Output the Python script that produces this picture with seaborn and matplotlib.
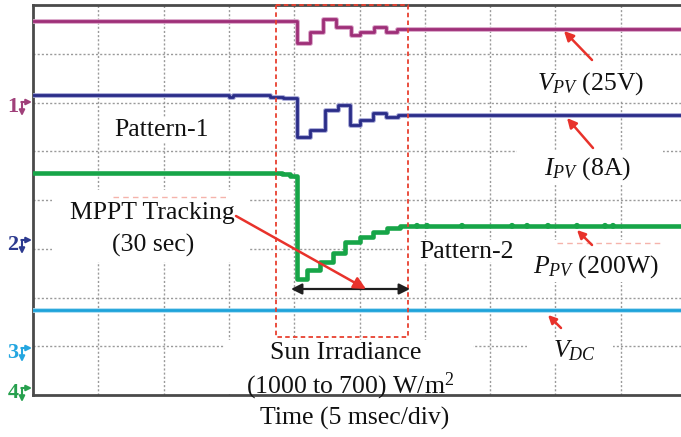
import numpy as np
import pandas as pd
import matplotlib
matplotlib.use("Agg")
import matplotlib.pyplot as plt
import seaborn as sns
from matplotlib.patches import Rectangle
from matplotlib.transforms import Affine2D

# Scope capture: 10 horizontal divisions of 5 ms, 8 vertical divisions.
# Trace levels are in screen divisions above the bottom graticule line.
vpv_t = [0.0, 20.2, 21.2, 22.2, 23.2, 24.35, 25.05, 26.1, 27.05, 27.9, 50.0]
vpv_div = [7.67, 7.22, 7.45, 7.72, 7.55, 7.38, 7.45, 7.55, 7.45, 7.51, 7.51]

ipv_t = [0.0, 15.0, 15.3, 18.15, 19.15, 20.2, 21.2, 22.35, 23.35, 24.25,
         25.05, 26.05, 27.05, 27.95, 50.0]
ipv_div = [6.15, 6.11, 6.15, 6.12, 6.10, 5.29, 5.44, 5.85, 5.95, 5.54,
           5.64, 5.78, 5.70, 5.74, 5.74]

ppv_t = [0.0, 19.05, 19.7, 20.2, 21.0, 22.0, 22.95, 23.9, 25.05, 26.05,
         27.1, 28.1, 50.0]
ppv_div = [4.55, 4.53, 4.49, 2.38, 2.56, 2.73, 2.91, 3.14, 3.24, 3.34,
           3.43, 3.47, 3.47]
ppv_glitch_t = [29.4, 30.17, 32.85, 36.68, 37.83, 39.43, 41.65, 43.8, 44.41]

vdc_t = [0.0, 50.0]
vdc_div = [1.74, 1.74]

x_ticks = [5, 10, 15, 20, 25, 30, 35, 40, 45]
y_ticks = [1, 2, 3, 4, 5, 6, 7]

sns.set_style("white")
plt.rcParams["font.family"] = ["Liberation Serif", "DejaVu Serif"]
plt.rcParams["mathtext.fontset"] = "custom"
plt.rcParams["mathtext.rm"] = "Liberation Serif"
plt.rcParams["mathtext.it"] = "Liberation Serif:italic"
plt.rcParams["mathtext.bf"] = "Liberation Serif:bold"

W, H = 681, 437
fig = plt.figure(figsize=(W / 100, H / 100), dpi=100)
fig.patch.set_facecolor("white")
ax = fig.add_axes([33 / W, 42 / H, 653 / W, 390 / H])
# image-pixel coordinates (origin top-left) for layout elements
PX = Affine2D().scale(1 / W, -1 / H).translate(0, 1) + fig.transFigure

ax.set_xlim(0, 50)
ax.set_ylim(0, 8)
ax.set_xticks(x_ticks)
ax.set_yticks(y_ticks)
ax.tick_params(length=0, labelbottom=False, labelleft=False)
ax.set_axisbelow(True)
ax.grid(True, color="#9a9a9a", lw=1.0, ls=(0, (1.5, 1.5)))
for side in ["top", "left", "bottom"]:
    ax.spines[side].set_color("#4a4a4a")
    ax.spines[side].set_linewidth(2.0)
ax.spines["right"].set_visible(False)

# white patches behind the labels that blank the graticule
for (x0, y0, x1, y1) in [(52, 190, 250, 262), (225, 340, 473, 394),
                         (517, 150, 663, 184), (405, 240, 525, 262),
                         (525, 240, 681, 282), (527, 338, 613, 364),
                         (533, 70, 650, 100), (112, 118, 212, 142)]:
    ax.add_patch(Rectangle((x0, y0), x1 - x0, y1 - y0, transform=PX,
                           facecolor="white", edgecolor="none", zorder=1))


def trace(t, v, color, lw, halo=None, z=4):
    df = pd.DataFrame({"t": t, "v": v})
    if halo is not None:
        sns.lineplot(data=df, x="t", y="v", ax=ax, color=halo, lw=lw + 1.4,
                     drawstyle="steps-post", estimator=None, sort=False,
                     legend=False, zorder=z - 0.5)
    sns.lineplot(data=df, x="t", y="v", ax=ax, color=color, lw=lw,
                 drawstyle="steps-post", estimator=None, sort=False,
                 legend=False, zorder=z)


trace(vpv_t, vpv_div, "#9e2f78", 2.0, halo="#d8a0c6")
trace(ipv_t, ipv_div, "#2a2d88", 2.0, halo="#a2a4d4")
trace(ppv_t, ppv_div, "#17a548", 3.3)
trace(vdc_t, vdc_div, "#1ea3da", 2.0, halo="#a8dcf2")
sns.scatterplot(x=ppv_glitch_t, y=[ppv_div[-1]] * len(ppv_glitch_t), ax=ax,
                color="#17a548", s=18, edgecolor="none", zorder=5, legend=False)
ax.set_xlabel("")
ax.set_ylabel("")

# irradiance-change window
ax.add_patch(Rectangle((276, 5), 132, 332, transform=PX, fill=False,
                       edgecolor="#e8402f", lw=1.3, ls=(0, (2.5, 1.8)), zorder=6,
                       clip_on=False))

# faint dashes
for (x0, x1, yy) in [(113, 227, 197), (557, 660, 243)]:
    ax.plot([x0, x1], [yy, yy], transform=PX, color="#f5b3ab", lw=1.0,
            ls=(0, (4, 3)), zorder=2)

# tracking interval
ax.annotate("", xy=(410, 289), xytext=(291, 289), xycoords=PX, textcoords=PX,
            arrowprops=dict(arrowstyle="<|-|>", color="#1f1f1f", lw=1.6,
                            mutation_scale=16, shrinkA=0, shrinkB=0), zorder=7)

red = "#e8322b"
for (tx, ty, hx, hy, ms) in [(592, 60, 564, 31, 14), (593, 148, 567, 118, 14),
                             (592, 245, 577, 230, 12), (561, 328, 548, 315, 12),
                             (236, 216, 366, 289, 18)]:
    ax.annotate("", xy=(hx, hy), xytext=(tx, ty), xycoords=PX, textcoords=PX,
                arrowprops=dict(arrowstyle="-|>", color=red, lw=1.8,
                                mutation_scale=ms, shrinkA=0, shrinkB=0),
                zorder=8)

fs = 18.5
labels = [
    (591, 84, r"$V_{PV}$ (25V)"),
    (588, 169, r"$I_{PV}$ (8A)"),
    (162, 130, "Pattern-1"),
    (152, 213, "MPPT Tracking"),
    (153, 245, "(30 sec)"),
    (467, 252, "Pattern-2"),
    (596, 267, r"$P_{PV}$ (200W)"),
    (574, 351, r"$V_{DC}$"),
    (346, 353, "Sun Irradiance"),
    (350, 386, r"(1000 to 700) W/m$^2$"),
    (355, 418, "Time (5 msec/div)"),
]
for (x, y, s) in labels:
    ax.text(x, y, s, transform=PX, ha="center", va="center", fontsize=fs,
            color="#111111", zorder=9, clip_on=False)

# channel ground markers on the left edge
for (lab, col, ytop) in [("1", "#a0407a", 102), ("2", "#2c3a8f", 240),
                         ("3", "#24a6e0", 348), ("4", "#27a04e", 388)]:
    ax.text(13, ytop + 5, lab, transform=PX, ha="center", va="center",
            fontsize=16, fontweight="bold", color=col, zorder=9, clip_on=False)
    ax.annotate("", xy=(22, ytop + 14), xytext=(22, ytop), xycoords=PX,
                textcoords=PX, arrowprops=dict(arrowstyle="-|>", color=col,
                lw=1.5, mutation_scale=8, shrinkA=0, shrinkB=0), zorder=9)
    ax.annotate("", xy=(32, ytop), xytext=(21.3, ytop), xycoords=PX,
                textcoords=PX, arrowprops=dict(arrowstyle="-|>", color=col,
                lw=1.5, mutation_scale=8, shrinkA=0, shrinkB=0), zorder=9)

fig.savefig("out.png", dpi=100, facecolor="white")
